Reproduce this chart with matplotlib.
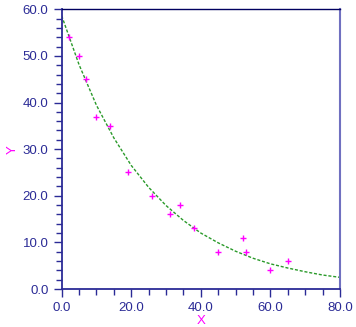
import matplotlib
matplotlib.use("Agg")
import matplotlib.pyplot as plt
from matplotlib.ticker import MultipleLocator, FormatStrFormatter

# measured points
x_obs = [2, 5, 7, 10, 14, 19, 26, 31, 34, 38, 45, 52, 53, 60, 65]
y_obs = [54, 50, 45, 37, 35, 25, 20, 16, 18, 13, 8, 11, 8, 4, 6]

# fitted curve, every 5 units
x_fit = [0, 5, 10, 15, 20, 25, 30, 35, 40, 45, 50, 55, 60, 65, 70, 75, 80]
y_fit = [58.6, 48.1, 39.4, 32.4, 26.5, 21.8, 17.9, 14.7, 12.0, 9.9,
         8.1, 6.6, 5.4, 4.5, 3.7, 3.0, 2.5]

NAVY = "#2b2b96"
MAGENTA = "#ff00ff"
plt.rcParams["font.family"] = ["Liberation Sans", "DejaVu Sans"]

fig = plt.figure(figsize=(3.56, 3.27), dpi=100)
ax = fig.add_axes([0.1733, 0.1162, 0.955 - 0.1733, 0.9716 - 0.1162])

ax.plot(x_fit, y_fit, color="#2a9a2a", lw=1.0, dashes=(2.2, 1.3))
ax.plot(x_obs, y_obs, ls="none", marker="+", ms=4.0, mew=1.0, color=MAGENTA)

ax.set_xlim(0, 80)
ax.set_ylim(0, 60)
ax.xaxis.set_major_locator(MultipleLocator(20))
ax.xaxis.set_minor_locator(MultipleLocator(5))
ax.yaxis.set_major_locator(MultipleLocator(10))
ax.yaxis.set_minor_locator(MultipleLocator(2))
ax.xaxis.set_major_formatter(FormatStrFormatter("%.1f"))
ax.yaxis.set_major_formatter(FormatStrFormatter("%.1f"))

ax.tick_params(which="both", direction="out", color=NAVY, width=1.0,
               labelcolor=NAVY, labelsize=9.5)
ax.tick_params(which="major", length=5.5, pad=4)
ax.tick_params(which="minor", length=4)
ax.tick_params(axis="x", which="major", pad=3.5)

ax.spines["left"].set_color(NAVY)
ax.spines["bottom"].set_color(NAVY)
ax.spines["left"].set_linewidth(1.3)
ax.spines["bottom"].set_linewidth(1.3)
ax.spines["top"].set_color("#000060")
ax.spines["top"].set_linewidth(1.0)
ax.spines["right"].set_color("#7070c0")
ax.spines["right"].set_linewidth(1.5)
for s in ax.spines.values():
    s.set_clip_on(False)

ax.set_xlabel("X", color=MAGENTA, fontsize=9.5, labelpad=1)
ax.set_ylabel("Y", color=MAGENTA, fontsize=9.5, labelpad=3)

fig.savefig("out.png", dpi=100)
